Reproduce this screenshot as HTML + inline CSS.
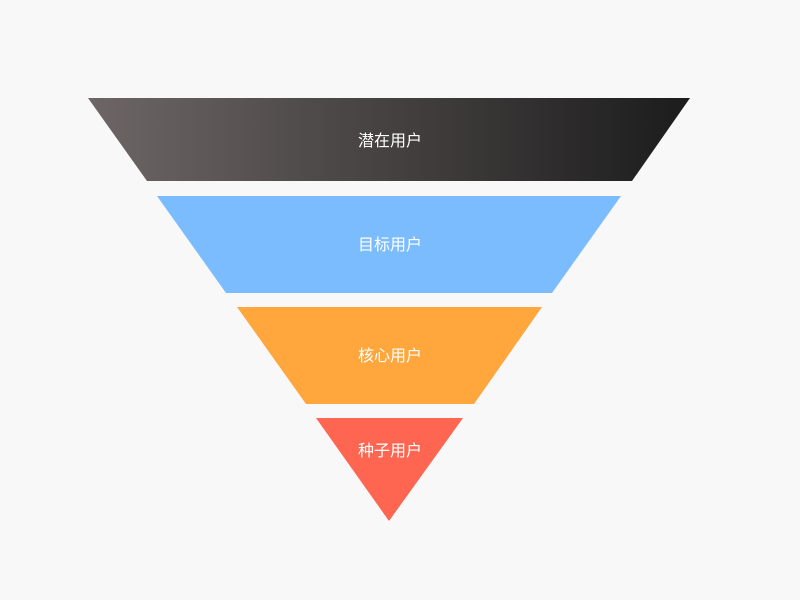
<!DOCTYPE html>
<html><head><meta charset="utf-8"><style>
html,body{margin:0;padding:0;background:#f8f8f8;}
svg{display:block;}
text{font-family:"Liberation Sans","Noto Sans CJK SC",sans-serif;font-size:16px;fill:#fff;}
</style></head><body>
<svg width="800" height="600" viewBox="0 0 800 600" xmlns="http://www.w3.org/2000/svg">
<defs><linearGradient id="g" x1="0" y1="0" x2="1" y2="0">
<stop offset="0" stop-color="#6e6666"/><stop offset="1" stop-color="#1c1c1c"/></linearGradient></defs>
<rect width="800" height="600" fill="#f8f8f8"/>
<polygon points="88,98 690,98 632,181 147,181" fill="url(#g)"/>
<polygon points="157,196 621,196 552,293 226,293" fill="#7bbcff"/>
<polygon points="237,307 542,307 474,404 306,404" fill="#ffa63c"/>
<polygon points="316,418 463,418 389,521" fill="#ff6651"/>
<text x="390" y="146" text-anchor="middle">潜在用户</text>
<text x="390" y="250" text-anchor="middle">目标用户</text>
<text x="390" y="361" text-anchor="middle">核心用户</text>
<text x="390" y="456" text-anchor="middle">种子用户</text>
</svg>
</body></html>
